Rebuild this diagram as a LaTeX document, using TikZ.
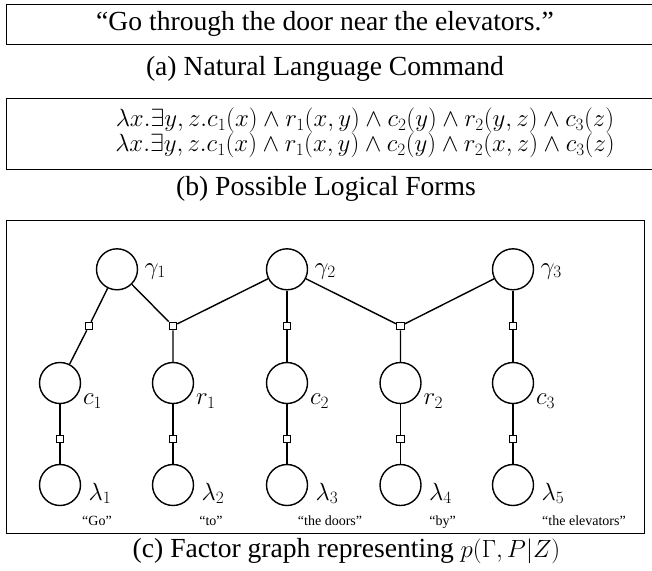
\documentclass[tikz,border=0pt]{standalone}
\usepackage{fontspec}
\setmainfont{Liberation Serif}
\begin{document}
\begin{tikzpicture}[x=1pt,y=-1pt,
  var/.style={draw, circle, line width=1.4pt, minimum size=41pt, inner sep=0},
  fac/.style={draw, rectangle, line width=1.1pt, minimum size=7.5pt, inner sep=0, fill=white},
  edge/.style={line width=1.4pt},
  frame/.style={draw, line width=0.9pt},
  capt/.style={inner sep=0, font=\fontsize{27.6}{31}\selectfont},
  lbl/.style={anchor=base west, inner sep=0, font=\fontsize{24}{28}\selectfont},
  word/.style={anchor=base, inner sep=0, font=\fontsize{14}{16}\selectfont}]
\clip (0,0) rectangle (652,570);
% (a)
\draw[frame] (6.5,4.5) rectangle (687,44.5);
\node[capt] (cmd) at (325,23.5) {“Go through the door near the elevators.”};
\node[capt] (capa) at (325,68.5) {(a) Natural Language Command};
% (b)
\draw[frame] (6.5,98) rectangle (687,169.5);
\node[inner sep=0, align=center, font=\fontsize{24.5}{25.5}\selectfont] (lf) at (365,133)
  {$\lambda x.\exists y,z.c_1(x)\wedge r_1(x,y)\wedge c_2(y)\wedge r_2(y,z)\wedge c_3(z)$\\
   $\lambda x.\exists y,z.c_1(x)\wedge r_1(x,y)\wedge c_2(y)\wedge r_2(x,z)\wedge c_3(z)$};
\node[capt] (capb) at (326,188.5) {(b) Possible Logical Forms};
% (c)
\draw[frame] (6.5,220.5) rectangle (644,533);
\node[capt] (capc) at (346.5,551) {(c) Factor graph representing $p(\Gamma,P|Z)$};
% variables
\foreach \n/\x in {g1/117,g2/287,g3/513}
  \node[var] (\n) at (\x,269.3) {};
\foreach \n/\x in {c1/60,r1/173,c2/287,r2/400.5,c3/513}
  \node[var] (\n) at (\x,383) {};
\foreach \n/\x in {l1/60,l2/173,l3/287,l4/400.5,l5/513}
  \node[var] (\n) at (\x,485) {};
% factors
\node[fac] (f1) at (89,326) {};
\node[fac] (f2) at (173,326) {};
\node[fac] (f3) at (287,326) {};
\node[fac] (f4) at (400.5,326) {};
\node[fac] (f5) at (513,326) {};
\foreach \i/\x in {1/60,2/173,3/287,4/400.5,5/513}
  \node[fac] (h\i) at (\x,439) {};
% edges
\draw[edge] (g1) -- (f1) -- (c1);
\draw[edge] (g1) -- (f2) -- (r1);
\draw[edge] (g2) -- (f2);
\draw[edge] (g2) -- (f3) -- (c2);
\draw[edge] (g2) -- (f4) -- (r2);
\draw[edge] (g3) -- (f4);
\draw[edge] (g3) -- (f5) -- (c3);
\draw[edge] (c1) -- (h1) -- (l1);
\draw[edge] (r1) -- (h2) -- (l2);
\draw[edge] (c2) -- (h3) -- (l3);
\draw[edge] (r2) -- (h4) -- (l4);
\draw[edge] (c3) -- (h5) -- (l5);
% labels
\node[lbl] (tg1) at (144.5,274) {$\gamma_1$};
\node[lbl] (tg2) at (314.5,274) {$\gamma_2$};
\node[lbl] (tg3) at (540.5,274) {$\gamma_3$};
\node[lbl] (tc1) at (83,404.5) {$c_1$};
\node[lbl] (tr1) at (196,404.5) {$r_1$};
\node[lbl] (tc2) at (310,404.5) {$c_2$};
\node[lbl] (tr2) at (423.5,404.5) {$r_2$};
\node[lbl] (tc3) at (536,404.5) {$c_3$};
\node[lbl] (tl1) at (88.5,500) {$\lambda_1$};
\node[lbl] (tl2) at (201.5,500) {$\lambda_2$};
\node[lbl] (tl3) at (315.5,500) {$\lambda_3$};
\node[lbl] (tl4) at (429,500) {$\lambda_4$};
\node[lbl] (tl5) at (541.5,500) {$\lambda_5$};
\node[word] (w1) at (97,525.5) {“Go”};
\node[word] (w2) at (211,525.5) {“to”};
\node[word] (w3) at (330,525.5) {“the doors”};
\node[word] (w4) at (442.5,525.5) {“by”};
\node[word] (w5) at (584,525.5) {“the elevators”};
\end{tikzpicture}
\end{document}
